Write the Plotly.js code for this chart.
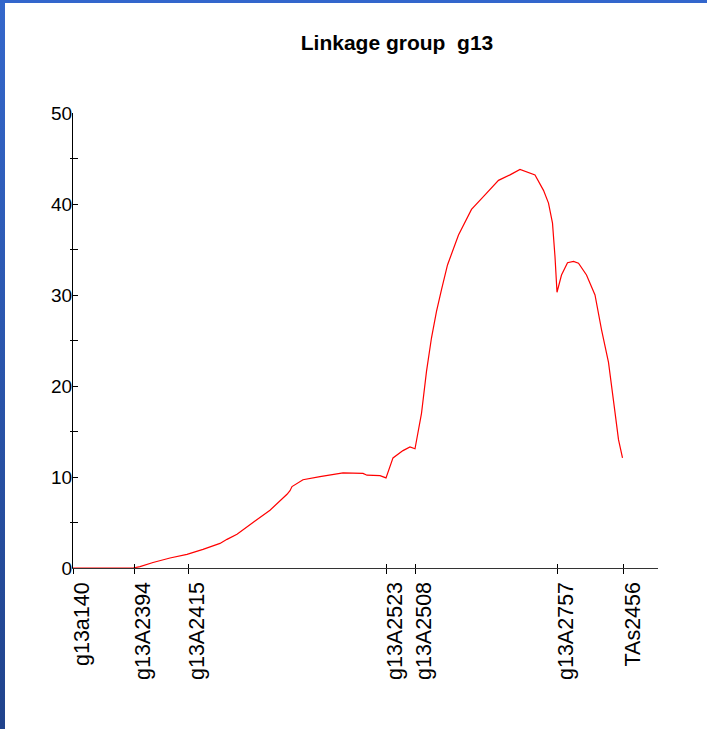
<!DOCTYPE html>
<html>
<head>
<meta charset="utf-8">
<script src="https://cdn.plot.ly/plotly-3.0.1.min.js"></script>
<style>
  html, body { margin: 0; padding: 0; background: #ffffff; }
  #wrap { position: relative; width: 707px; height: 729px; overflow: hidden; background: #ffffff; }
  #chart { position: absolute; left: 0; top: 0; width: 707px; height: 729px; }
  #bl { position: absolute; left: 0; top: 0; width: 5px; height: 729px; background: linear-gradient(#3467cb, #20438c); z-index: 5; }
  #bt { position: absolute; left: 0; top: 0; width: 707px; height: 3px; background: #3366cc; z-index: 5; }
</style>
</head>
<body>
<div id="wrap"><div id="chart"></div><div id="bl"></div><div id="bt"></div></div>
<script>
// Marker positions (cM) and names
const markerNames = ["g13a140", "g13A2394", "g13A2415", "g13A2523", "g13A2508", "g13A2757", "TAs2456"];
const markerPos   = [0, 12.2, 23, 62.6, 68.4, 96.8, 110];

// LOD profile along the linkage group
const posCM = [0, 12, 13.4, 16, 19.4, 22.8, 26, 29.4, 30.8, 32.8, 36, 39.4, 42.8, 43.4, 43.8, 46, 49.4, 54, 58, 58.8, 61.4, 62.6,
  64, 66, 67.4, 68.4, 69.7, 70.7, 71.7, 72.7, 73.7, 74.9, 77.1, 79.7, 82.4, 85.1, 87.4, 89.4, 92.4, 94.1, 95.1, 95.9, 96.4, 96.8,
  97.7, 98.9, 100.1, 101.1, 102.7, 104.4, 105.7, 107.1, 108.4, 109.1, 109.9];
const lod = [0, 0, 0.15, 0.6, 1.1, 1.5, 2.05, 2.7, 3.15, 3.7, 5.0, 6.35, 8.1, 8.5, 8.95, 9.7, 10.05, 10.45, 10.4, 10.2, 10.15, 9.9,
  12.1, 12.9, 13.3, 13.1, 17.0, 21.6, 25.3, 28.2, 30.6, 33.3, 36.6, 39.4, 41.0, 42.6, 43.2, 43.8, 43.2, 41.5, 40.1, 37.9, 34.2, 30.3,
  32.2, 33.55, 33.7, 33.5, 32.2, 30.0, 26.2, 22.6, 17.1, 14.1, 12.1];

const yMajor = [0, 10, 20, 30, 40, 50];
const yMinor = [5, 15, 25, 35, 45];

const xRange = [0, 117];
const yRange = [0, 50];

const traces = [
  { x: posCM, y: lod, type: "scatter", mode: "lines", line: { color: "#ff0000", width: 1.2 }, hoverinfo: "x+y", showlegend: false },
  { x: [], y: [], type: "scatter", mode: "lines", xaxis: "x2", yaxis: "y2", showlegend: false }
];

const fontFam = "Liberation Sans, Arial, sans-serif";
const yTickFont = { family: fontFam, size: 19, color: "#000000" };
const xLabFont = { family: fontFam, size: 21.5, color: "#000000" };

// marker name labels: rotated, placed just right of each tick, reading upward
const markerLabels = markerNames.map((name, i) => ({
  text: name, x: markerPos[i], xref: "x", y: 0, yref: "paper",
  xanchor: "left", yanchor: "top", textangle: -90, showarrow: false,
  xshift: -5, yshift: -12, font: xLabFont
}));

const layout = {
  width: 707, height: 729,
  margin: { l: 73, r: 49, t: 113, b: 161 },
  paper_bgcolor: "rgba(0,0,0,0)",
  plot_bgcolor: "#ffffff",
  showlegend: false,
  title: {
    text: "<b>Linkage group  g13</b>",
    font: { family: fontFam, size: 21, color: "#000000" },
    xref: "container", x: 397 / 707, xanchor: "center",
    yref: "container", y: 1 - 43 / 729, yanchor: "middle"
  },
  xaxis: {
    range: xRange, showgrid: false, zeroline: false, showline: true, linecolor: "#333333", linewidth: 1,
    tickmode: "array", tickvals: markerPos, ticks: "outside", ticklen: 5, tickcolor: "#000000", tickwidth: 1,
    showticklabels: false, fixedrange: true
  },
  yaxis: {
    range: yRange, showgrid: false, zeroline: false, showline: true, linecolor: "#000000", linewidth: 1,
    tickmode: "array", tickvals: yMajor, ticktext: yMajor.map(String),
    ticks: "inside", ticklen: 5, tickcolor: "#000000", tickwidth: 1,
    minor: { tickmode: "array", tickvals: yMinor, ticks: "inside", ticklen: 5, tickcolor: "#000000" },
    tickfont: yTickFont, ticklabelstandoff: -4, fixedrange: true
  },
  xaxis2: {
    overlaying: "x", anchor: "y2", range: xRange, showgrid: false, zeroline: false, showline: false,
    tickmode: "array", tickvals: markerPos, ticks: "inside", ticklen: 4, tickcolor: "#000000",
    showticklabels: false, fixedrange: true
  },
  yaxis2: {
    overlaying: "y", anchor: "x2", side: "left", range: yRange, showgrid: false, zeroline: false, showline: false,
    tickmode: "array", tickvals: yMinor, ticks: "outside", ticklen: 2, tickcolor: "#000000",
    showticklabels: false, fixedrange: true
  },
  annotations: markerLabels
};

Plotly.newPlot("chart", traces, layout, { displayModeBar: false, staticPlot: true });
</script>
</body>
</html>
